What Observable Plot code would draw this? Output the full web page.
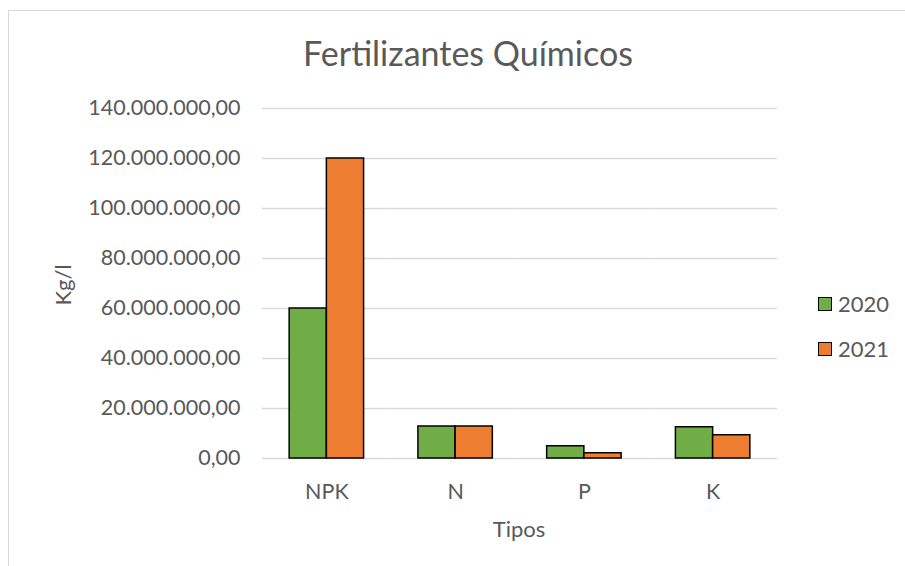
<!DOCTYPE html>
<html>
<head>
<meta charset="utf-8">
<script src="https://cdn.jsdelivr.net/npm/d3@7"></script>
<script src="https://cdn.jsdelivr.net/npm/@observablehq/plot@0.6"></script>
<style>
  html, body { margin: 0; padding: 0; background: #fff; }
  #wrap { position: relative; width: 905px; height: 566px; overflow: hidden; font-family: Lato, "Open Sans", sans-serif; color: #595959; }
  #frame { position: absolute; left: 8px; top: 10px; width: 1000px; height: 1000px; border-top: 1.5px solid #d9d9d9; border-left: 1.5px solid #d9d9d9; }
  #chart { position: absolute; left: 0; top: 0; }
  #title { position: absolute; left: 0; width: 936px; top: 32px; text-align: center; font-size: 34px; }
  #ylabel { position: absolute; left: 62px; top: 285px; transform: translate(-50%, -50%) rotate(-90deg); font-size: 22px; white-space: nowrap; }
  #xlabel { position: absolute; left: 519px; top: 528px; transform: translate(-50%, -50%); font-size: 22px; }
  .leg { position: absolute; left: 818px; font-size: 22px; display: flex; align-items: center; }
  .sw { width: 14px; height: 14px; border: 1.5px solid #000; margin-right: 6px; box-sizing: border-box; }
</style>
</head>
<body>
<div id="wrap">
  <div id="frame"></div>
  <div id="chart"></div>
  <div id="title">Fertilizantes Químicos</div>
  <div id="ylabel">Kg/l</div>
  <div id="xlabel">Tipos</div>
  <div id="legend"></div>
</div>
<script>
const tipos = ["NPK", "N", "P", "K"];
const anos = ["2020", "2021"];
const valores2020 = [60000000, 12800000, 4900000, 12500000];
const valores2021 = [120000000, 12800000, 2100000, 9300000];
const yTicks = [0, 20000000, 40000000, 60000000, 80000000, 100000000, 120000000, 140000000];
const cores = ["#70ad47", "#ed7d31"];

const data = [];
tipos.forEach((t, i) => {
  data.push({tipo: t, ano: anos[0], valor: valores2020[i]});
  data.push({tipo: t, ano: anos[1], valor: valores2021[i]});
});

const fmt = d3.formatLocale({decimal: ",", thousands: ".", grouping: [3], currency: ["R$", ""]}).format(",.2f");

const plot = Plot.plot({
  width: 905,
  height: 566,
  marginLeft: 262,
  marginRight: 128,
  marginTop: 108,
  marginBottom: 108,
  style: {fontFamily: "Lato, 'Open Sans', sans-serif", fontSize: "21.5px", color: "#595959", background: "transparent"},
  fx: {domain: tipos, padding: 0, label: null, round: false},
  x: {domain: anos, axis: null, paddingInner: 0, paddingOuter: 0.73, round: false},
  y: {domain: [0, 140000000], axis: null},
  color: {domain: anos, range: cores},
  marks: [
    Plot.gridY(yTicks, {stroke: "#d9d9d9", strokeOpacity: 1, strokeWidth: 1.5}),
    Plot.barY(data, {fx: "tipo", x: "ano", y: "valor", fill: "ano", stroke: "#000", strokeWidth: 1.5, inset: 0}),
    Plot.axisY(yTicks, {tickSize: 0, tickPadding: 22, tickFormat: fmt, label: null}),
    Plot.axisFx({anchor: "bottom", tickSize: 0, tickPadding: 25, label: null})
  ]
});
document.getElementById("chart").appendChild(plot);

const legend = document.getElementById("legend");
anos.forEach((a, i) => {
  const row = document.createElement("div");
  row.className = "leg";
  row.style.top = (290 + i * 45) + "px";
  const sw = document.createElement("div");
  sw.className = "sw";
  sw.style.background = cores[i];
  row.appendChild(sw);
  row.appendChild(document.createTextNode(a));
  legend.appendChild(row);
});
</script>
</body>
</html>
